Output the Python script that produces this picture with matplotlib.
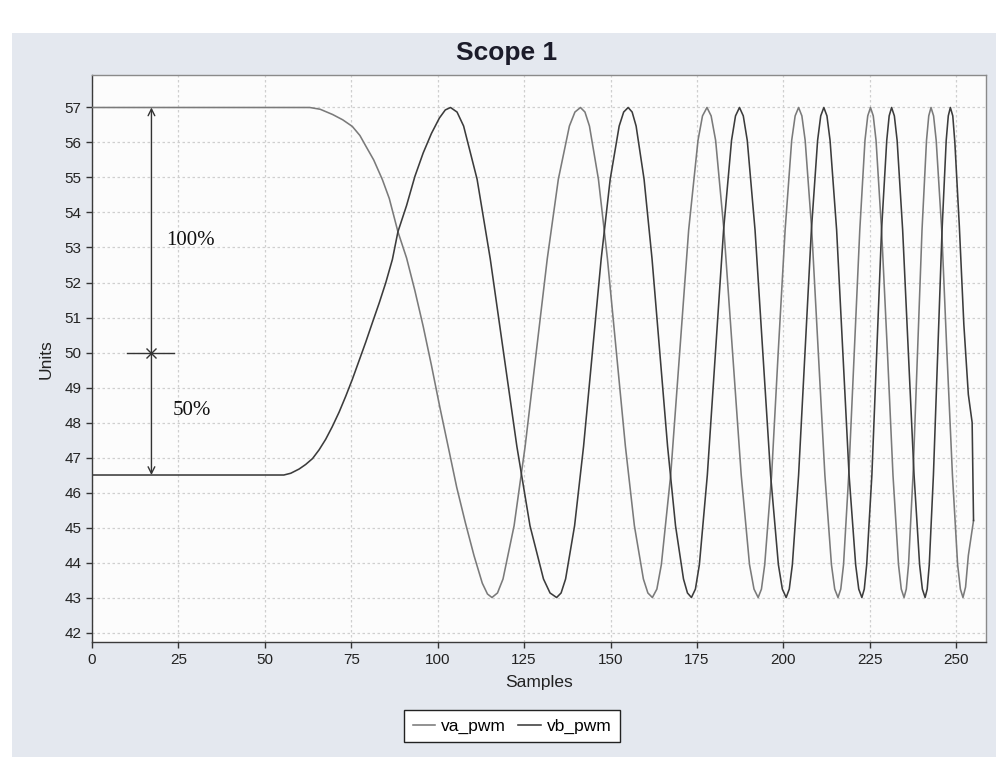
import matplotlib
matplotlib.use("Agg")
import matplotlib.pyplot as plt
from matplotlib.patches import Rectangle

# ---------------- data ----------------
title = "Scope 1"
x_label = "Samples"
y_label = "Units"
series_names = ["va_pwm", "vb_pwm"]

x_ticks = [0, 25, 50, 75, 100, 125, 150, 175, 200, 225, 250]
y_ticks = [42, 43, 44, 45, 46, 47, 48, 49, 50, 51, 52, 53, 54, 55, 56, 57]

# (sample, value) pairs
va_points = [
    (0, 57), (63, 57), (66, 56.95), (69.6, 56.8), (72.5, 56.65), (75.3, 56.46),
    (77.5, 56.2), (79.2, 55.9), (81.5, 55.5), (84, 54.94), (86, 54.4), (88.5, 53.45),
    (91, 52.7), (93.4, 51.77), (95.8, 50.75), (98.2, 49.63), (100.6, 48.45),
    (103.1, 47.28), (105.5, 46.15), (108, 45.14), (110.5, 44.2), (112.9, 43.41),
    (114.4, 43.1), (115.7, 43.0), (117.3, 43.13), (118.9, 43.53), (122.1, 45.05),
    (125.3, 47.32), (128.5, 50), (131.7, 52.68), (134.9, 54.95), (138.1, 56.47),
    (139.7, 56.87), (141.3, 57), (142.6, 56.87), (143.9, 56.47), (146.5, 54.95),
    (149.1, 52.68), (151.7, 50), (154.3, 47.32), (156.9, 45.05), (159.5, 43.53),
    (160.8, 43.13), (162.1, 43), (163.4, 43.24), (164.7, 43.94), (167.4, 46.5),
    (170.0, 50), (172.6, 53.5), (175.3, 56.06), (176.6, 56.76), (177.9, 57),
    (179.1, 56.76), (180.4, 56.06), (182.8, 53.5), (185.3, 50), (187.8, 46.5),
    (190.2, 43.94), (191.5, 43.24), (192.7, 43), (193.65, 43.24), (194.6, 43.94),
    (196.6, 46.5), (198.5, 50), (200.5, 53.5), (202.4, 56.06), (203.4, 56.76),
    (204.4, 57), (205.35, 56.76), (206.3, 56.06), (208.2, 53.5), (210.1, 50),
    (212.0, 46.5), (213.9, 43.94), (214.85, 43.24), (215.8, 43), (216.6, 43.24),
    (217.4, 43.94), (218.9, 46.5), (220.5, 50), (222.1, 53.5), (223.6, 56.06),
    (224.4, 56.76), (225.2, 57), (226.0, 56.76), (226.8, 56.06), (228.4, 53.5),
    (230.1, 50), (231.7, 46.5), (233.3, 43.94), (234.1, 43.24), (234.9, 43),
    (235.55, 43.24), (236.2, 43.94), (237.5, 46.5), (238.8, 50), (240.1, 53.5),
    (241.4, 56.06), (242.05, 56.76), (242.7, 57), (243.45, 56.76), (244.2, 56.06),
    (245.8, 53.5), (247.3, 50), (248.9, 46.5), (250.4, 43.94), (251.2, 43.24),
    (251.95, 43), (252.7, 43.3), (253.5, 44.2), (255, 45.2),
]

vb_points = [
    (0, 46.5), (55.5, 46.5), (57.5, 46.55), (59.9, 46.67), (61.8, 46.8), (63.8, 46.97),
    (65.7, 47.22), (67.6, 47.52), (69.5, 47.88), (71.5, 48.3), (73.4, 48.75),
    (75.3, 49.23), (77.2, 49.75), (79.2, 50.3), (81.1, 50.85), (83.1, 51.42),
    (85, 52.0), (86.9, 52.66), (88.5, 53.45), (91, 54.2), (93.4, 55.03), (95.8, 55.7),
    (98.2, 56.26), (100.5, 56.7), (102.2, 56.93), (103.7, 57.0), (105.6, 56.87),
    (107.5, 56.47), (111.4, 54.95), (115.2, 52.68), (119.05, 50), (122.9, 47.32),
    (126.7, 45.05), (130.6, 43.53), (132.5, 43.13), (134.4, 43), (135.7, 43.13),
    (137.0, 43.53), (139.6, 45.05), (142.2, 47.32), (144.75, 50), (147.3, 52.68),
    (149.9, 54.95), (152.5, 56.47), (153.8, 56.87), (155.1, 57), (156.25, 56.87),
    (157.4, 56.47), (159.7, 54.95), (162.0, 52.68), (164.25, 50), (166.5, 47.32),
    (168.8, 45.05), (171.1, 43.53), (172.25, 43.13), (173.4, 43), (174.55, 43.24),
    (175.7, 43.94), (178.0, 46.5), (180.35, 50), (182.7, 53.5), (185.0, 56.06),
    (186.15, 56.76), (187.3, 57), (188.4, 56.76), (189.55, 56.06), (191.8, 53.5),
    (194.05, 50), (196.3, 46.5), (198.55, 43.94), (199.7, 43.24), (200.8, 43),
    (201.7, 43.24), (202.6, 43.94), (204.4, 46.5), (206.25, 50), (208.1, 53.5),
    (209.9, 56.06), (210.8, 56.76), (211.7, 57), (212.6, 56.76), (213.5, 56.06),
    (215.4, 53.5), (217.2, 50), (219.0, 46.5), (220.9, 43.94), (221.8, 43.24),
    (222.7, 43), (223.4, 43.24), (224.1, 43.94), (225.6, 46.5), (227.0, 50),
    (228.4, 53.5), (229.9, 56.06), (230.6, 56.76), (231.3, 57), (232.1, 56.76),
    (232.9, 56.06), (234.5, 53.5), (236.15, 50), (237.8, 46.5), (239.4, 43.94),
    (240.2, 43.24), (241.0, 43), (241.6, 43.24), (242.2, 43.94), (243.4, 46.5),
    (244.65, 50), (245.9, 53.5), (247.1, 56.06), (247.7, 56.76), (248.3, 57),
    (249.0, 56.76), (249.6, 56.0), (250.9, 53.6), (252.2, 50.8), (253.5, 48.8),
    (254.6, 48.0), (255, 45.2),
]

va_x = [p[0] for p in va_points]
va_y = [p[1] for p in va_points]
vb_x = [p[0] for p in vb_points]
vb_y = [p[1] for p in vb_points]

# annotation values (data units)
arrow_x = 17.2
arrow_top = 57.0
arrow_bottom = 46.5
mid_level = 50.0
mid_line_x = [10.0, 23.7]
label_100 = "100%"
label_50 = "50%"
label_100_pos = (28.5, 53.2)
label_50_pos = (29.0, 48.35)

# ---------------- figure ----------------
fig = plt.figure(figsize=(10.02, 7.57), dpi=100, facecolor="white")
fig.patches.append(Rectangle((0.012, 0.0), 0.982, 0.957, transform=fig.transFigure,
                             facecolor="#e4e8ef", edgecolor="none", zorder=-10))

ax = fig.add_axes([0.0918, 0.1515, 0.8922, 0.7495])
ax.set_facecolor("#fcfcfc")

ax.plot(va_x, va_y, color="#7a7a7a", lw=1.15, label=series_names[0], zorder=3)
ax.plot(vb_x, vb_y, color="#3c3c3c", lw=1.15, label=series_names[1], zorder=3)

ax.set_xlim(0, 258.6)
ax.set_ylim(41.72, 57.93)
ax.set_xticks(x_ticks)
ax.set_yticks(y_ticks)
ax.tick_params(axis="both", direction="out", length=4, width=1, colors="#333333",
               labelsize=11, labelcolor="#222222")
for lab in ax.get_xticklabels() + ax.get_yticklabels():
    lab.set_fontfamily("Liberation Sans")

ax.grid(True, which="major", linestyle=(0, (2, 2)), color="#cfcfcf", lw=0.9, zorder=0)

for side in ["top", "right"]:
    ax.spines[side].set_color("#8a8a8a")
    ax.spines[side].set_linewidth(1.0)
for side in ["left", "bottom"]:
    ax.spines[side].set_color("#3a3a3a")
    ax.spines[side].set_linewidth(1.0)

fig.text(0.506, 0.930, title, fontsize=19, fontweight="bold", family="Liberation Sans",
         color="#1c1c2a", ha="center", va="center")
ax.set_xlabel(x_label, fontsize=12.5, family="Liberation Sans", color="#222222", labelpad=6)
ax.set_ylabel(y_label, fontsize=12.5, family="Liberation Sans", color="#222222", labelpad=8)

# annotations
ax.annotate("", xy=(arrow_x, arrow_top), xytext=(arrow_x, arrow_bottom),
            arrowprops=dict(arrowstyle="<->", color="#333333", lw=1.0,
                            shrinkA=0, shrinkB=0, mutation_scale=12), zorder=4)
ax.plot(mid_line_x, [mid_level, mid_level], color="#333333", lw=1.0, zorder=4)
ax.plot([arrow_x], [mid_level], marker="x", color="#333333", ms=7, mew=1.0, zorder=4)
ax.text(*label_100_pos, label_100, family="Liberation Serif", fontsize=15,
        ha="center", va="center", color="#111111")
ax.text(*label_50_pos, label_50, family="Liberation Serif", fontsize=15,
        ha="center", va="center", color="#111111")

leg = ax.legend(loc="upper center", bbox_to_anchor=(0.470, -0.119), ncol=2,
                frameon=True, fancybox=False, edgecolor="#222222", facecolor="white",
                framealpha=1.0, prop={"family": "Liberation Sans", "size": 12.5},
                handlelength=1.3, handletextpad=0.35, columnspacing=0.7,
                borderpad=0.5, borderaxespad=0)
leg.get_frame().set_linewidth(1.0)

fig.savefig("out.png", dpi=100, facecolor=fig.get_facecolor())
